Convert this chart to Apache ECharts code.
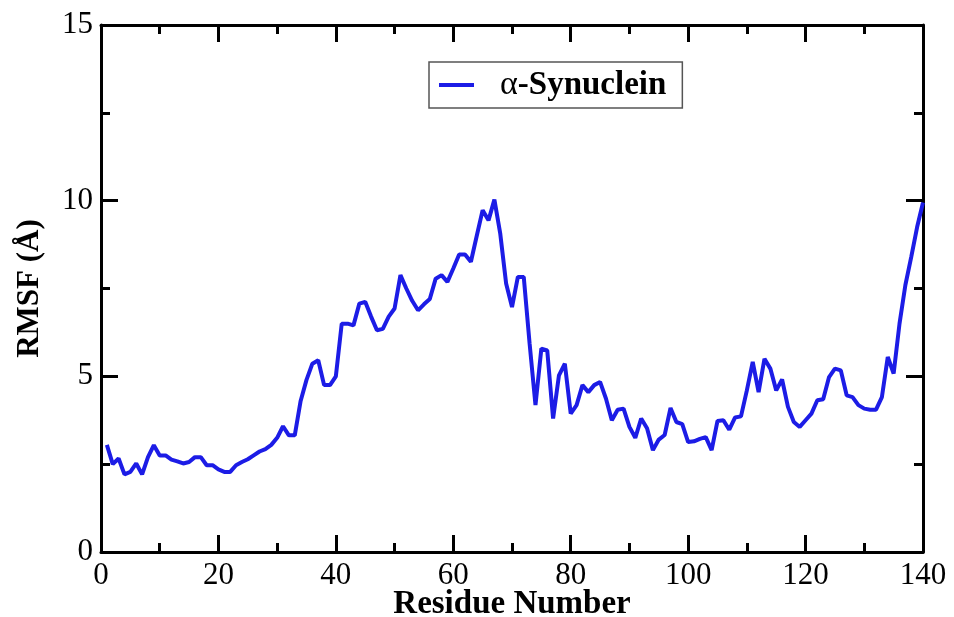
<!DOCTYPE html>
<html>
<head>
<meta charset="utf-8">
<script src="https://cdn.jsdelivr.net/npm/echarts@6/dist/echarts.min.js"></script>
<style>html,body{margin:0;padding:0;background:#fff}#c{width:954px;height:617px}</style>
</head>
<body>
<div id="c"></div>
<script>
var residues = [];
for (var i = 1; i <= 140; i++) residues.push(i);
var rmsf = [
 3.05,2.50,2.66,2.21,2.28,2.52,2.21,2.70,3.04,2.75,
 2.75,2.63,2.58,2.52,2.56,2.70,2.70,2.47,2.47,2.35,
 2.28,2.28,2.47,2.56,2.64,2.75,2.86,2.93,3.05,3.25,
 3.58,3.32,3.32,4.30,4.90,5.36,5.46,4.75,4.75,5.00,
 6.50,6.50,6.45,7.07,7.12,6.70,6.31,6.35,6.70,6.93,
 7.88,7.50,7.15,6.88,7.05,7.20,7.78,7.88,7.69,8.07,
 8.47,8.47,8.26,9.00,9.73,9.44,10.03,9.06,7.64,6.97,
 7.83,7.83,5.93,4.18,5.79,5.74,3.80,5.03,5.36,3.94,
 4.18,4.75,4.55,4.75,4.84,4.37,3.75,4.05,4.08,3.56,
 3.25,3.80,3.52,2.90,3.20,3.33,4.10,3.70,3.64,3.13,
 3.15,3.22,3.27,2.90,3.73,3.75,3.48,3.83,3.86,4.60,
 5.41,4.55,5.50,5.22,4.60,4.91,4.13,3.70,3.56,3.75,
 3.94,4.32,4.35,4.98,5.22,5.17,4.46,4.41,4.18,4.08,
 4.05,4.05,4.41,5.55,5.08,6.50,7.60,8.40,9.25,9.95
];
var seriesName = 'α-Synuclein';
var xTitle = 'Residue Number';
var yTitle = 'RMSF (Å)';

var data = residues.map(function (r, i) { return [r, rmsf[i]]; });
var serif = '"Liberation Serif", "Times New Roman", serif';
var axisCommon = {
  axisLine: { show: true, onZero: false, lineStyle: { color: '#000', width: 3 } },
  axisTick: { show: true, inside: true, length: 17, lineStyle: { color: '#000', width: 3 } },
  minorTick: { show: true, splitNumber: 2, length: 9, lineStyle: { color: '#000', width: 3 } },
  splitLine: { show: false }
};
function ax(extra) { return Object.assign({}, JSON.parse(JSON.stringify(axisCommon)), extra); }

var chart = echarts.init(document.getElementById('c'));
chart.setOption({
  animation: false,
  backgroundColor: '#fff',
  grid: { left: 101, right: 31, top: 25, bottom: 65, containLabel: false, outerBoundsMode: 'none' },
  legend: {
    left: 429, top: 62,
    padding: [6, 16, 6, 10],
    borderColor: '#555', borderWidth: 1.5,
    icon: 'rect', itemWidth: 35, itemHeight: 4,
    data: [seriesName],
    formatter: function () { return '{a|α}{b|-Synuclein}'; },
    textStyle: {
      rich: {
        a: { fontFamily: serif, fontSize: 34, color: '#000', padding: [0, 0, 0, 21] },
        b: { fontFamily: serif, fontSize: 33, fontWeight: 'bold', color: '#000' }
      }
    }
  },
  xAxis: [
    ax({ type: 'value', min: 0, max: 140, interval: 20, position: 'bottom',
      name: xTitle, nameLocation: 'middle', nameGap: 36, nameMoveOverlap: false,
      nameTextStyle: { fontFamily: serif, fontSize: 33, fontWeight: 'bold', color: '#000' },
      axisLabel: { fontFamily: serif, fontSize: 31, color: '#000', margin: 8 } }),
    ax({ type: 'value', min: 0, max: 140, interval: 20, position: 'top',
      axisLabel: { show: false } })
  ],
  yAxis: [
    ax({ type: 'value', min: 0, max: 15, interval: 5, position: 'left',
      name: yTitle, nameLocation: 'middle', nameGap: 56, nameMoveOverlap: false,
      nameTextStyle: { fontFamily: serif, fontSize: 31, fontWeight: 'bold', color: '#000' },
      axisLabel: { fontFamily: serif, fontSize: 31, color: '#000', margin: 8 } }),
    ax({ type: 'value', min: 0, max: 15, interval: 5, position: 'right',
      axisLabel: { show: false } })
  ],
  series: [{
    name: seriesName, type: 'line', xAxisIndex: 0, yAxisIndex: 0,
    data: data, showSymbol: false, symbol: 'none',
    lineStyle: { color: '#1c1ce6', width: 4 },
    itemStyle: { color: '#1c1ce6' }
  }]
});
</script>
</body>
</html>
